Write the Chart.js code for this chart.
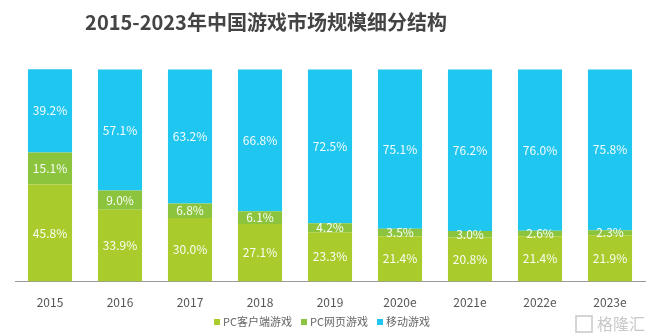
<!DOCTYPE html>
<html>
<head>
<meta charset="utf-8">
<script src="https://cdn.jsdelivr.net/npm/chart.js@4.4.1/dist/chart.umd.min.js"></script>
<style>
  html, body { margin: 0; padding: 0; background: #fff; }
  #wrap { width: 650px; height: 336px; }
</style>
</head>
<body>
<div id="wrap"><canvas id="gameChart" width="650" height="336"></canvas></div>
<script>
const years = ["2015", "2016", "2017", "2018", "2019", "2020e", "2021e", "2022e", "2023e"];
const pcClient = [45.8, 33.9, 30.0, 27.1, 23.3, 21.4, 20.8, 21.4, 21.9];
const pcWeb = [15.1, 9.0, 6.8, 6.1, 4.2, 3.5, 3.0, 2.6, 2.3];
const mobile = [39.2, 57.1, 63.2, 66.8, 72.5, 75.1, 76.2, 76.0, 75.8];
const seriesNames = ["PC客户端游戏", "PC网页游戏", "移动游戏"];
const colors = ["#a9cc2c", "#8cc43e", "#1fc6ef"];

const fontFamily = "'Noto Sans CJK SC', 'Noto Sans', sans-serif";

// title, legend and watermark drawn by hand
const extras = {
  id: "extras",
  afterDraw(chart) {
    const ctx = chart.ctx;
    ctx.save();
    ctx.fillStyle = "#444";
    ctx.font = "bold 20px " + fontFamily;
    ctx.textAlign = "center";
    ctx.textBaseline = "middle";
    ctx.fillText("2015-2023年中国游戏市场规模细分结构", 266, 22);

    // legend
    ctx.font = "11px " + fontFamily;
    ctx.textAlign = "left";
    const gap = 9, box = 6;
    const widths = seriesNames.map(n => box + 3 + ctx.measureText(n).width);
    const total = widths.reduce((a, b) => a + b, 0) + gap * (widths.length - 1);
    let x = 322 - total / 2;
    const ly = 322;
    seriesNames.forEach((n, i) => {
      ctx.fillStyle = colors[i];
      ctx.fillRect(x, ly - box / 2, box, box);
      ctx.fillStyle = "#666";
      ctx.fillText(n, x + box + 3, ly);
      x += widths[i] + gap;
    });

    // watermark
    ctx.fillStyle = "#c8c8c8";
    ctx.font = "16px " + fontFamily;
    ctx.fillText("格隆汇", 597, 324);
    ctx.strokeStyle = "#c8c8c8";
    ctx.lineWidth = 1.5;
    ctx.strokeRect(576, 316, 16, 16);
    ctx.restore();
  }
};

// white percent labels in the middle of each segment
const segLabels = {
  id: "segLabels",
  afterDatasetsDraw(chart) {
    const ctx = chart.ctx;
    ctx.save();
    ctx.fillStyle = "rgba(255,255,255,0.95)";
    ctx.font = "12px " + fontFamily;
    ctx.textAlign = "center";
    ctx.textBaseline = "middle";
    chart.data.datasets.forEach((ds, i) => {
      chart.getDatasetMeta(i).data.forEach((bar, j) => {
        const y = (bar.y + bar.base) / 2;
        ctx.fillText(ds.data[j].toFixed(1) + "%", bar.x, y);
      });
    });
    ctx.restore();
  }
};

new Chart(document.getElementById("gameChart"), {
  type: "bar",
  data: {
    labels: years,
    datasets: [
      { label: seriesNames[0], data: pcClient, backgroundColor: colors[0] },
      { label: seriesNames[1], data: pcWeb, backgroundColor: colors[1] },
      { label: seriesNames[2], data: mobile, backgroundColor: colors[2] }
    ]
  },
  options: {
    responsive: false,
    animation: false,
    layout: { padding: { top: 69, left: 15, right: 5, bottom: 12 } },
    datasets: { bar: { categoryPercentage: 1, barPercentage: 0.63 } },
    scales: {
      x: {
        stacked: true,
        grid: { display: false, drawTicks: false },
        border: { display: true, color: "#999", width: 1 },
        ticks: { color: "#555", font: { size: 12, family: fontFamily }, padding: 14 }
      },
      y: {
        stacked: true,
        display: false,
        min: 0,
        max: 100.2
      }
    },
    plugins: {
      legend: { display: false },
      tooltip: { enabled: false }
    }
  },
  plugins: [segLabels, extras]
});
</script>
</body>
</html>
